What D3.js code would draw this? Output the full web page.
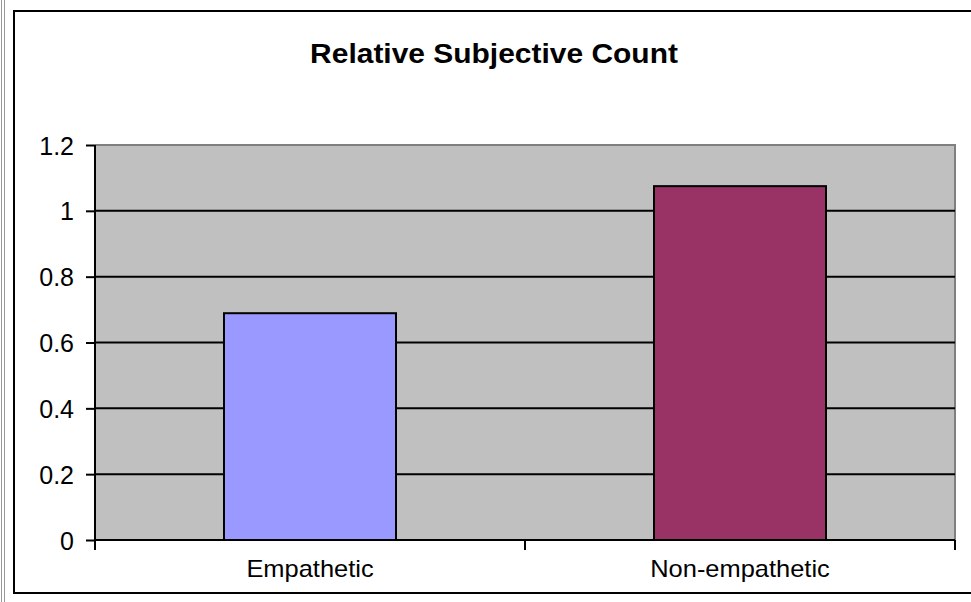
<!DOCTYPE html>
<html>
<head>
<meta charset="utf-8">
<script src="https://cdn.jsdelivr.net/npm/d3@7"></script>
<style>
  html, body { margin: 0; padding: 0; background: #fff; }
  svg { display: block; }
  text { font-family: "Liberation Sans", Arial, sans-serif; fill: #000; }
</style>
</head>
<body>
<svg id="chart" width="971" height="602"></svg>
<script>
// Chart data
const title = "Relative Subjective Count";
const categories = ["Empathetic", "Non-empathetic"];
const values = [0.689, 1.075];
const barColors = ["#9999FF", "#993366"];
const yTicks = [0, 0.2, 0.4, 0.6, 0.8, 1, 1.2];
const yTickLabels = ["0", "0.2", "0.4", "0.6", "0.8", "1", "1.2"];

const svg = d3.select("#chart");
const W = 971, H = 602;

// Plot area
const plot = { left: 95, right: 955, top: 145, bottom: 540 };

// Outer frame lines
svg.append("line").attr("x1", 1.5).attr("x2", 1.5).attr("y1", 0).attr("y2", H)
  .attr("stroke", "#999").attr("stroke-width", 1);
svg.append("line").attr("x1", 4.5).attr("x2", 4.5).attr("y1", 0).attr("y2", H)
  .attr("stroke", "#999").attr("stroke-width", 1);
svg.append("rect")
  .attr("x", 14).attr("y", 11).attr("width", W + 20).attr("height", 582)
  .attr("fill", "#fff").attr("stroke", "#000").attr("stroke-width", 2);

const x = d3.scaleBand().domain(categories).range([plot.left, plot.right])
  .paddingInner(0.6).paddingOuter(0.3);
const xEdges = d3.scaleLinear().domain([0, categories.length]).range([plot.left, plot.right]);
const y = d3.scaleLinear().domain([0, 1.2]).range([plot.bottom, plot.top]);

// Plot background
svg.append("rect")
  .attr("x", plot.left).attr("y", plot.top)
  .attr("width", plot.right - plot.left).attr("height", plot.bottom - plot.top)
  .attr("fill", "#C0C0C0");

// Plot border (top and right in grey)
svg.append("path")
  .attr("d", `M${plot.left},${plot.top}H${plot.right}V${plot.bottom}`)
  .attr("fill", "none").attr("stroke", "#808080").attr("stroke-width", 2);

// Gridlines
svg.append("g").selectAll("line")
  .data(yTicks.filter(t => t > 0 && t < 1.2))
  .join("line")
  .attr("x1", plot.left).attr("x2", plot.right)
  .attr("y1", d => y(d)).attr("y2", d => y(d))
  .attr("stroke", "#000").attr("stroke-width", 2);

// Bars
svg.append("g").selectAll("rect")
  .data(categories)
  .join("rect")
  .attr("x", d => x(d))
  .attr("y", (d, i) => y(values[i]))
  .attr("width", x.bandwidth())
  .attr("height", (d, i) => y(0) - y(values[i]))
  .attr("fill", (d, i) => barColors[i])
  .attr("stroke", "#000").attr("stroke-width", 2);

// Y axis
const yAxis = d3.axisLeft(y)
  .tickValues(yTicks)
  .tickFormat((d, i) => yTickLabels[i])
  .tickSize(9).tickPadding(12);
const gy = svg.append("g").attr("transform", `translate(${plot.left},0)`).call(yAxis);
gy.select(".domain").attr("stroke", "#000").attr("stroke-width", 2)
  .attr("d", `M${plot.left - plot.left},${plot.top}V${plot.bottom}`);
gy.selectAll(".tick line").attr("stroke", "#000").attr("stroke-width", 2);
gy.selectAll(".tick text")
  .style("font-family", "'Liberation Sans', Arial, sans-serif")
  .attr("font-size", 25).attr("fill", "#000").attr("dy", "0.36em");

// X axis
const gx = svg.append("g").attr("transform", `translate(0,${plot.bottom})`);
gx.append("line").attr("x1", plot.left - 1).attr("x2", plot.right)
  .attr("y1", 0).attr("y2", 0).attr("stroke", "#000").attr("stroke-width", 2);
gx.selectAll("line.tk")
  .data(d3.range(categories.length + 1))
  .join("line").attr("class", "tk")
  .attr("x1", d => xEdges(d)).attr("x2", d => xEdges(d))
  .attr("y1", 0).attr("y2", 10)
  .attr("stroke", "#000").attr("stroke-width", 2);
gx.selectAll("text")
  .data(categories)
  .join("text")
  .attr("transform", d => `translate(${x(d) + x.bandwidth() / 2},37) scale(1.06,1)`)
  .attr("text-anchor", "middle")
  .attr("font-size", 24)
  .text(d => d);

// Title
svg.append("text")
  .attr("transform", `translate(494,63) scale(1.07,1)`)
  .attr("text-anchor", "middle")
  .attr("font-size", 28)
  .attr("font-weight", "bold")
  .text(title);
</script>
</body>
</html>
